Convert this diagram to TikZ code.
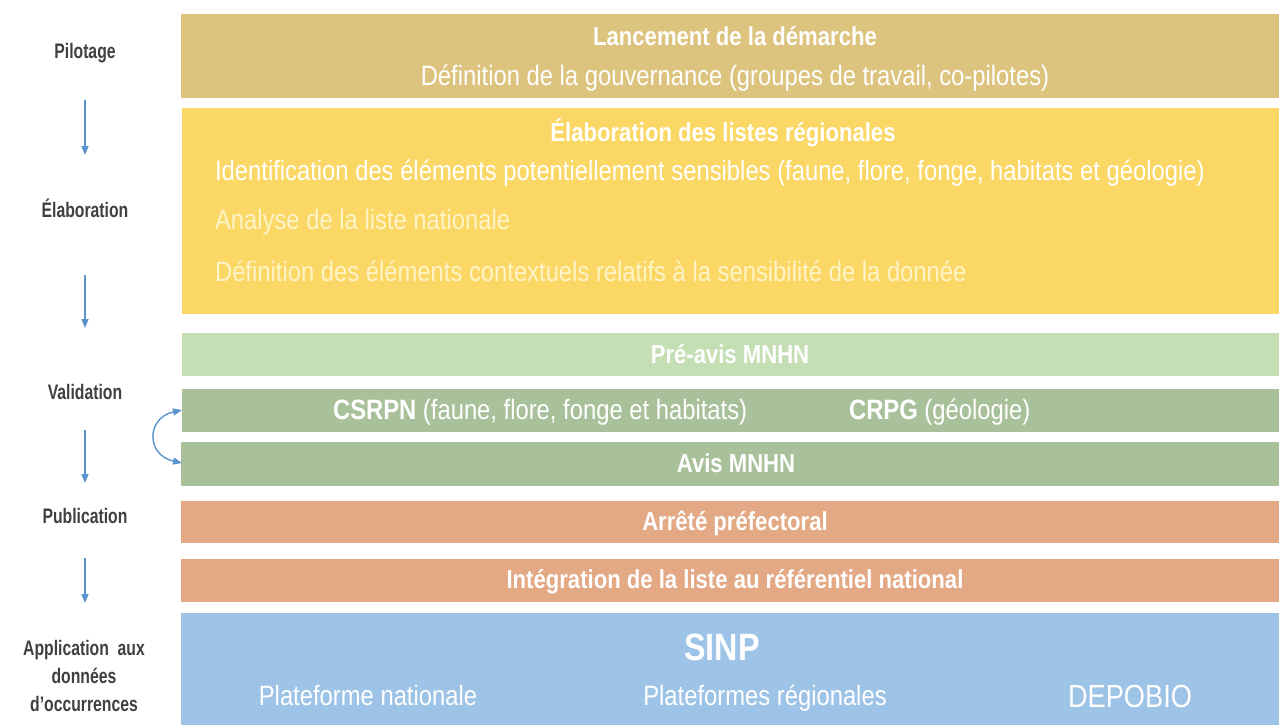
\documentclass[tikz,border=0pt]{standalone}
\usepackage{fontspec}
\setmainfont{Liberation Sans}[FakeStretch=0.85]
\newfontfamily\etroite{Liberation Sans}[FakeStretch=0.75]
\usetikzlibrary{arrows.meta}
\definecolor{pilotage}{HTML}{DCC47F}
\definecolor{elaboration}{HTML}{FBD766}
\definecolor{preavis}{HTML}{C5DFB5}
\definecolor{validation}{HTML}{A9C19B}
\definecolor{publication}{HTML}{E3A985}
\definecolor{application}{HTML}{9DC3E6}
\definecolor{phasegris}{HTML}{404040}
\definecolor{flechebleu}{HTML}{5B93CC}
\definecolor{pale}{HTML}{FFF4C8}

\begin{document}
\begin{tikzpicture}[x=0.5pt, y=-0.5pt,
  phase/.style={font=\etroite\fontsize{10.5}{14}\selectfont\bfseries, text=phasegris, align=center},
  titre/.style={font=\fontsize{13}{15}\selectfont\bfseries, text=white, text height=0.75em, text depth=0.22em, yshift=-2pt},
  texte/.style={font=\fontsize{14}{16}\selectfont, text=white, text height=0.75em, text depth=0.22em, yshift=-2pt},
  fleche/.style={-{Triangle[length=4.5pt,width=3.5pt]}, draw=flechebleu, line width=0.7pt}]
\useasboundingbox (0,0) rectangle (1279,725);

\fill[pilotage] (181,14) rectangle (1279,98);
\fill[elaboration] (182,108) rectangle (1279,314);
\fill[preavis] (182,333) rectangle (1279,376);
\fill[validation] (182,389) rectangle (1279,432);
\fill[validation] (181,442) rectangle (1279,486);
\fill[publication] (181,501) rectangle (1279,543);
\fill[publication] (181,559) rectangle (1279,602);
\fill[application] (181,613) rectangle (1279,725);

\node[phase] (pil) at (85,53) {Pilotage};
\node[phase] (ela) at (85,208) {Élaboration};
\node[phase] (val) at (85,392) {Validation};
\node[phase] (pub) at (85,516) {Publication};
\node[phase] (app) at (84,676) {Application\ \ aux\\données\\d’occurrences};

\foreach \i/\a/\b in {1/100/155, 2/275/328, 3/430/483, 4/558/603}{
  \coordinate (h\i) at (85,\a);
  \coordinate (b\i) at (85,\b);
  \draw[fleche] (h\i) -- (b\i);
}

\node[titre] (lanc) at (735,36) {Lancement de la démarche};
\node[texte] (gouv) at (735,76) {Définition de la gouvernance (groupes de travail, co-pilotes)};
\node[titre] (listes) at (723,132) {Élaboration des listes régionales};
\node[texte, anchor=west] (ident) at (208,171) {Identification des éléments potentiellement sensibles (faune, flore, fonge, habitats et géologie)};
\node[texte, text=pale, anchor=west] (analyse) at (208,220) {Analyse de la liste nationale};
\node[texte, text=pale, anchor=west] (contexte) at (208,272) {Définition des éléments contextuels relatifs à la sensibilité de la donnée};
\node[titre] (preav) at (730,354) {Pré-avis MNHN};
\node[texte, anchor=west] (csrpn) at (326,410) {\textbf{CSRPN} (faune, flore, fonge et habitats)};
\node[texte, anchor=west] (crpg) at (842,410) {\textbf{CRPG} (géologie)};
\node[titre] (avis) at (736,463) {Avis MNHN};
\node[titre] (arrete) at (735,521) {Arrêté préfectoral};
\node[titre] (integ) at (735,579) {Intégration de la liste au référentiel national};
\node[titre, font=\fontsize{19}{21}\selectfont\bfseries] (sinp) at (722,651) {SINP};
\node[texte] (nat) at (368,696) {Plateforme nationale};
\node[texte] (reg) at (765,696) {Plateformes régionales};
\node[texte, font=\fontsize{16}{18}\selectfont] (depo) at (1130,698) {DEPOBIO};

\coordinate (c1) at (182,410);
\coordinate (c2) at (182,463);
\draw[fleche, {Triangle[length=4.5pt,width=3.5pt]}-{Triangle[length=4.5pt,width=3.5pt]}] (c1) .. controls (146,418) and (146,455) .. (c2);
\end{tikzpicture}
\end{document}
